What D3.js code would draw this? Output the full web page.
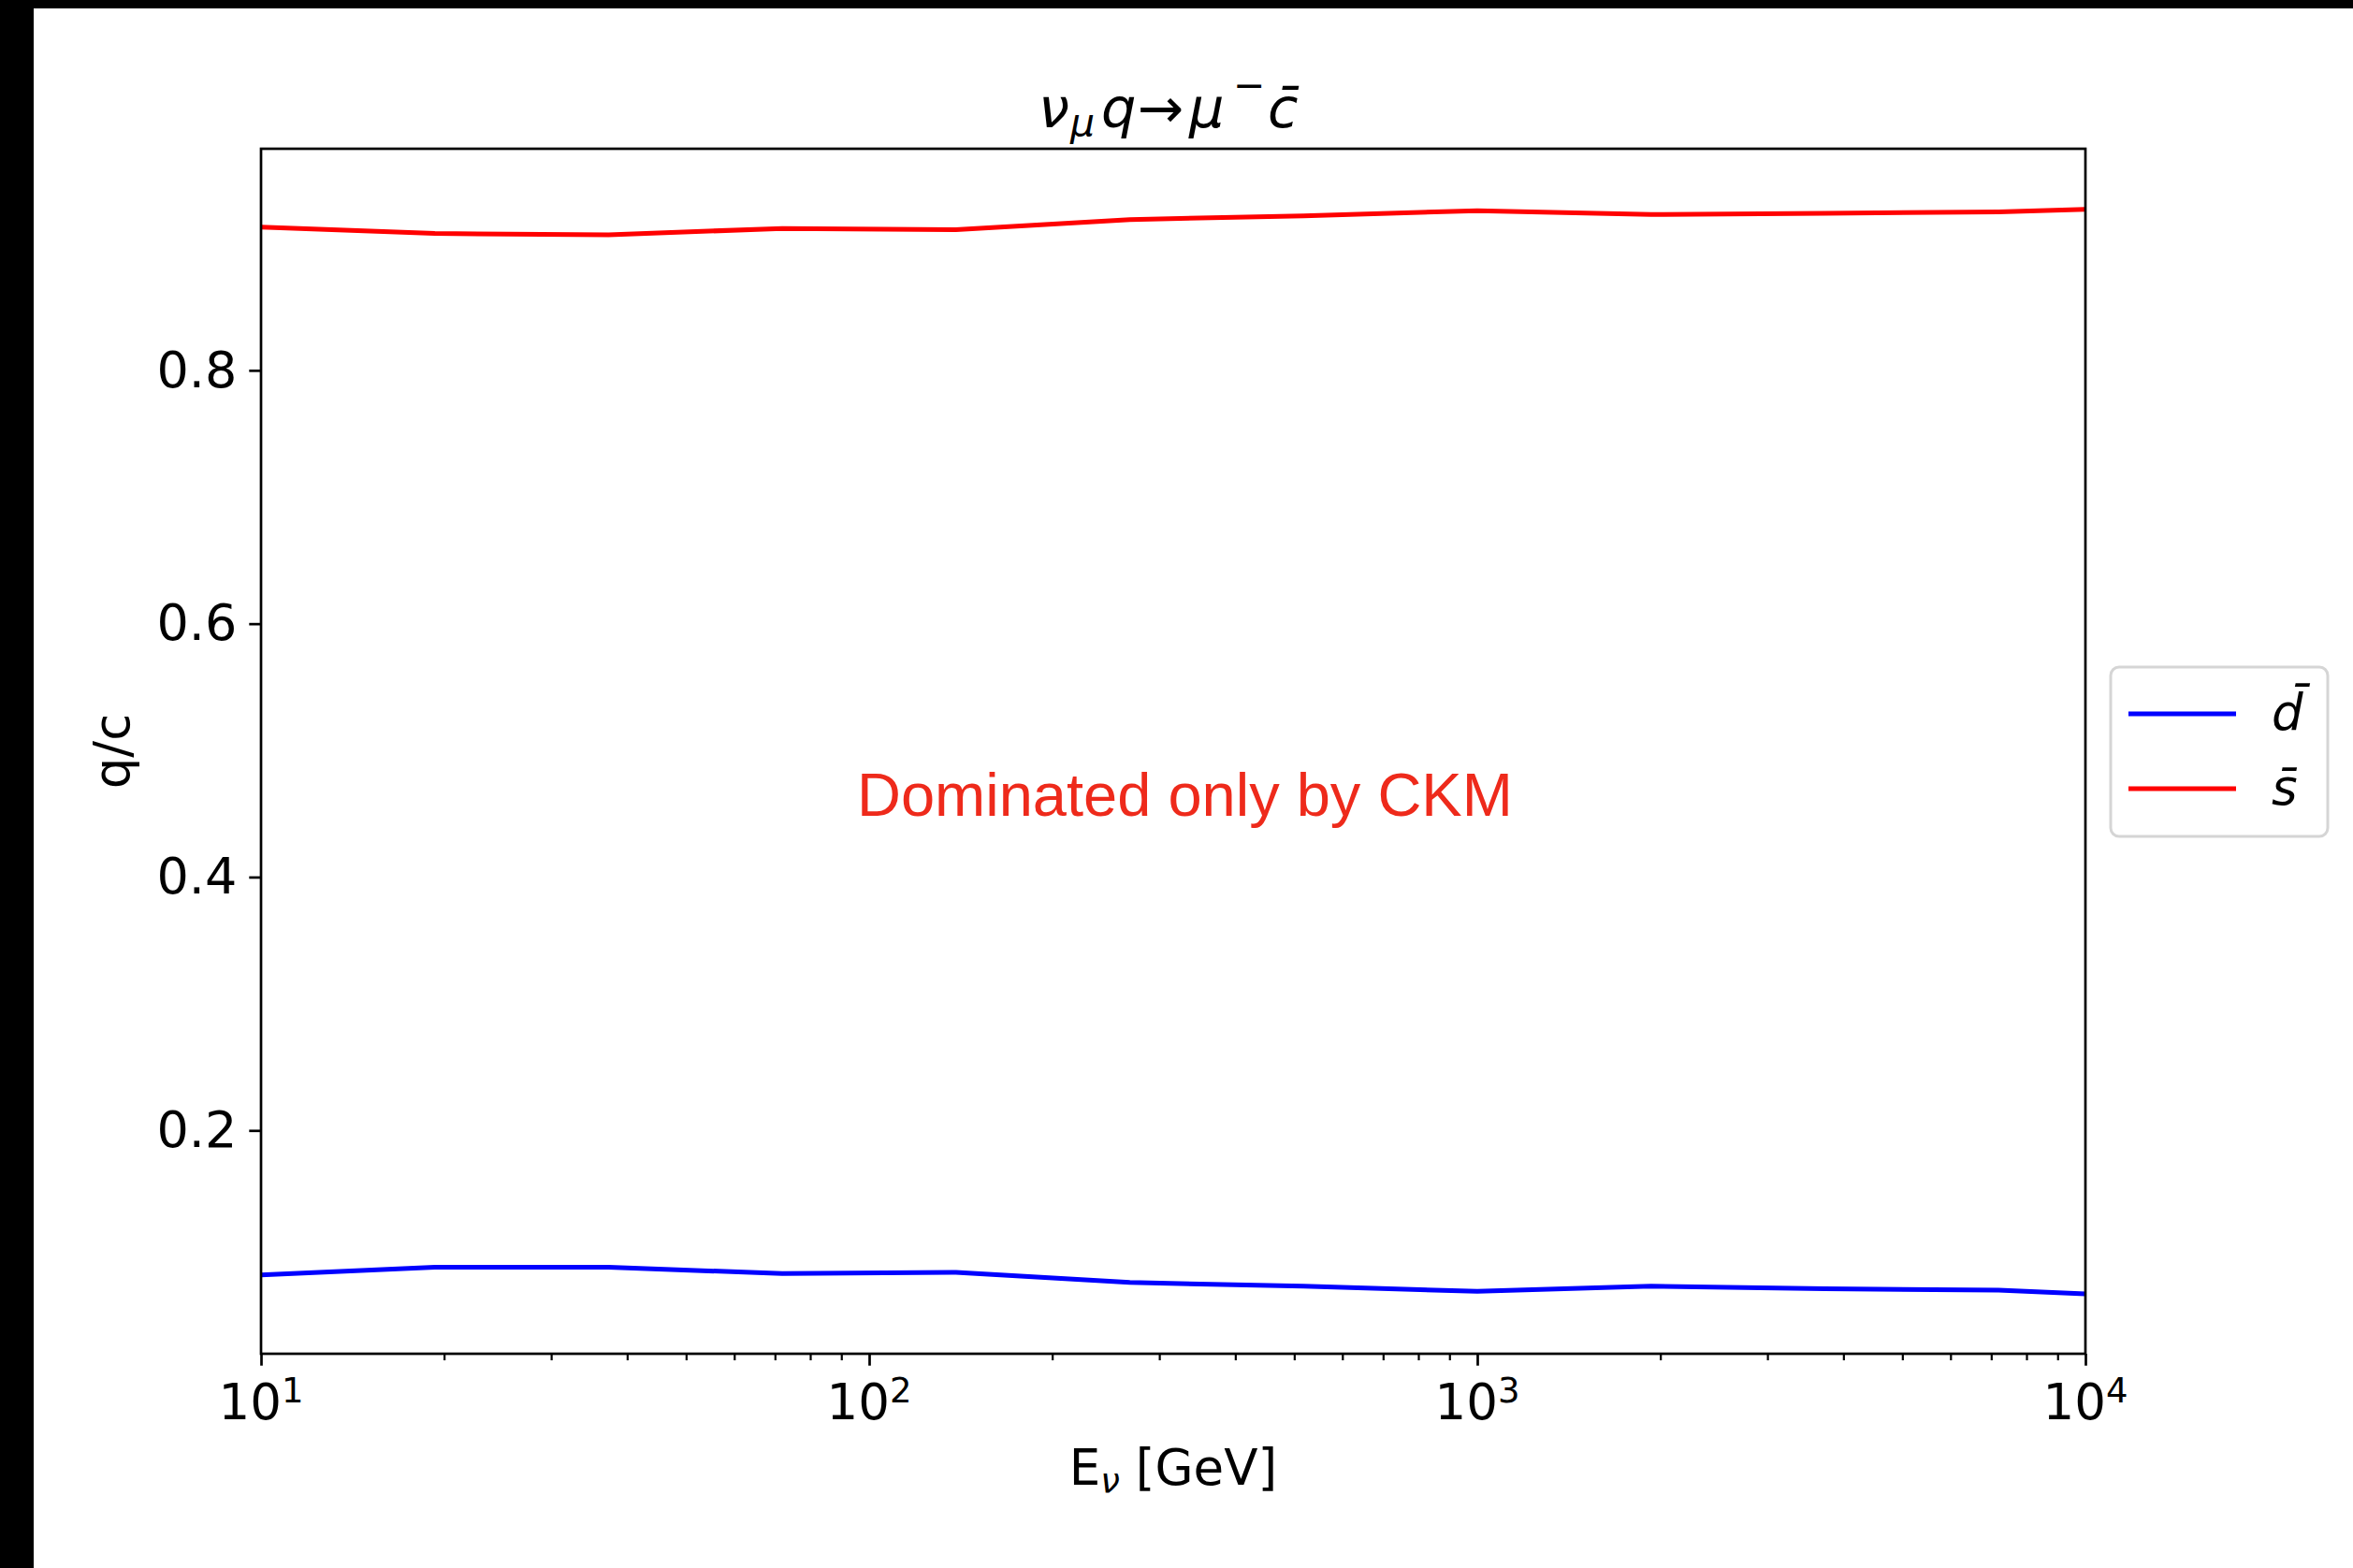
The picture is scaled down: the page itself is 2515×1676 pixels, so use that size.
<!DOCTYPE html>
<html>
<head>
<meta charset="utf-8">
<script src="https://cdn.jsdelivr.net/npm/d3@7"></script>
<style>
  body { margin: 0; background: #fff; }
  text { font-family: "DejaVu Sans", sans-serif; fill: #000; }
</style>
</head>
<body>
<div id="chart"></div>
<script>
(function(){

  let width = 2515;
  let height = 1676;

  // neutrino energy grid (GeV)
  const energies = [10, 19.31, 37.28, 71.97, 138.9, 268.3, 517.9, 1000, 1931, 3728, 7197, 10000];
  // fraction of charm production coming from each antiquark
  const dbarFrac = [0.086, 0.092, 0.092, 0.087, 0.088, 0.080, 0.077, 0.073, 0.077, 0.075, 0.074, 0.071];
  const sbarFrac = [0.913, 0.908, 0.907, 0.912, 0.911, 0.919, 0.922, 0.926, 0.923, 0.924, 0.925, 0.927];

  const seriesNames = ["d", "s"];
  const seriesColors = ["#0000ff", "#ff0000"];

  const xTicks = [10, 100, 1000, 10000];
  const xTickExp = ["1", "2", "3", "4"];
  const yTicks = [0.2, 0.4, 0.6, 0.8];
  const yLimits = [0.0237, 0.9749];

  let margin = {left: 279, right: 286, top: 159, bottom: 229};
  let w = width - margin.left - margin.right;
  let h = height - margin.top - margin.bottom;

  let svg = d3.select('#chart')
            .append("svg")
            .attr("width", width)
            .attr("height", height);

  svg.append("rect").attr("width", width).attr("height", height).attr("fill", "#fff");

  // dark strips along top and left edge
  svg.append("rect").attr("x", 0).attr("y", 0).attr("width", width).attr("height", 9).attr("fill", "#000");
  svg.append("rect").attr("x", 0).attr("y", 0).attr("width", 36).attr("height", height).attr("fill", "#000");

  let g = svg.append("g").attr("transform", "translate(" + margin.left + "," + margin.top + ")");

  let x = d3.scaleLog().domain([10, 10000]).range([0, w]);
  let y = d3.scaleLinear().domain(yLimits).range([h, 0]);

  // minor ticks on the log axis
  let minor = x.ticks().filter(function(t){ return xTicks.indexOf(t) < 0; });
  g.append("g")
    .attr("transform", "translate(0," + h + ")")
    .call(d3.axisBottom(x).tickValues(minor).tickSize(7).tickFormat(""))
    .call(function(a){
      a.select(".domain").remove();
      a.selectAll("line").attr("stroke", "#000").attr("stroke-width", 2.2);
    });

  // major x ticks
  let xAxis = g.append("g")
    .attr("transform", "translate(0," + h + ")")
    .call(d3.axisBottom(x).tickValues(xTicks).tickSize(12.7).tickFormat(""));
  xAxis.select(".domain").remove();
  xAxis.selectAll("line").attr("stroke", "#000").attr("stroke-width", 2.7);

  // 10^n labels
  xTicks.forEach(function(t, i){
    let lbl = g.append("text")
      .attr("x", x(t))
      .attr("y", h + 70)
      .attr("text-anchor", "middle")
      .attr("font-size", 53);
    lbl.append("tspan").text("10");
    lbl.append("tspan").attr("font-size", 37).attr("dy", -18).text(xTickExp[i]);
  });

  let yAxis = g.append("g")
    .call(d3.axisLeft(y).tickValues(yTicks).tickSize(12.7).tickPadding(13).tickFormat(d3.format(".1f")));
  yAxis.select(".domain").remove();
  yAxis.selectAll("line").attr("stroke", "#000").attr("stroke-width", 2.7);
  yAxis.selectAll("text")
    .style("font-family", "DejaVu Sans")
    .attr("font-size", 54)
    .style("fill", "#000");

  // data lines
  let line = d3.line()
    .x(function(d){ return x(d.e); })
    .y(function(d){ return y(d.v); });

  let series = [dbarFrac, sbarFrac].map(function(vals, i){
    return {
      name: seriesNames[i],
      color: seriesColors[i],
      points: energies.map(function(e, j){ return {e: e, v: vals[j]}; })
    };
  });

  g.selectAll(".frac")
    .data(series)
    .enter().append("path")
    .attr("class", "frac")
    .attr("d", function(d){ return line(d.points); })
    .attr("fill", "none")
    .attr("stroke", function(d){ return d.color; })
    .attr("stroke-width", 5)
    .attr("stroke-linejoin", "round");

  // axes frame
  g.append("rect")
    .attr("width", w).attr("height", h)
    .attr("fill", "none")
    .attr("stroke", "#000")
    .attr("stroke-width", 2.7);

  // note in the middle
  g.append("text")
    .attr("x", 916 - margin.left)
    .attr("y", 872 - margin.top)
    .style("font-family", "'Liberation Sans', Arial, sans-serif")
    .attr("font-size", 65)
    .style("fill", "#ee2a1b")
    .text("Dominated only by CKM");

  // title
  let title = svg.append("text")
    .attr("y", 136)
    .attr("font-size", 59)
    .attr("font-style", "italic");
  title.append("tspan").attr("x", 1110).text("ν");
  title.append("tspan").attr("x", 1144).attr("dy", 9).attr("font-size", 41).text("μ");
  title.append("tspan").attr("x", 1177).attr("dy", -9).text("q");
  title.append("tspan").attr("x", 1216).attr("font-style", "normal").text("→");
  title.append("tspan").attr("x", 1271).text("μ");
  title.append("tspan").attr("x", 1318).attr("dy", -31).attr("font-size", 41).attr("font-style", "normal").text("−");
  title.append("tspan").attr("x", 1355).attr("dy", 31).text("c\u0304");

  // x label
  let xl = svg.append("text")
    .attr("x", margin.left + w / 2)
    .attr("y", 1587)
    .attr("text-anchor", "middle")
    .attr("font-size", 53);
  xl.append("tspan").text("E");
  xl.append("tspan").attr("font-size", 37).attr("font-style", "italic").attr("dy", 9).text("ν");
  xl.append("tspan").attr("dy", -9).text(" [GeV]");

  // y label
  svg.append("text")
    .attr("transform", "translate(138," + (margin.top + h / 2) + ") rotate(-90)")
    .attr("text-anchor", "middle")
    .attr("font-size", 53)
    .text("q/c");

  // legend
  let legend = svg.append("g").attr("transform", "translate(2256,713)");
  legend.append("rect")
    .attr("width", 232).attr("height", 181)
    .attr("rx", 9)
    .attr("fill", "#fff")
    .attr("stroke", "#d5d5d5")
    .attr("stroke-width", 3);

  let items = legend.selectAll(".item")
    .data(series)
    .enter().append("g")
    .attr("class", "item")
    .attr("transform", function(d, i){ return "translate(0," + (50 + i * 80) + ")"; });

  items.append("line")
    .attr("x1", 19).attr("x2", 134)
    .attr("stroke", function(d){ return d.color; })
    .attr("stroke-width", 5);

  items.append("text")
    .attr("x", 172)
    .attr("y", 17)
    .attr("font-size", 53)
    .attr("font-style", "italic")
    .text(function(d){ return d.name + "\u0304"; });

})();
</script>
</body>
</html>
